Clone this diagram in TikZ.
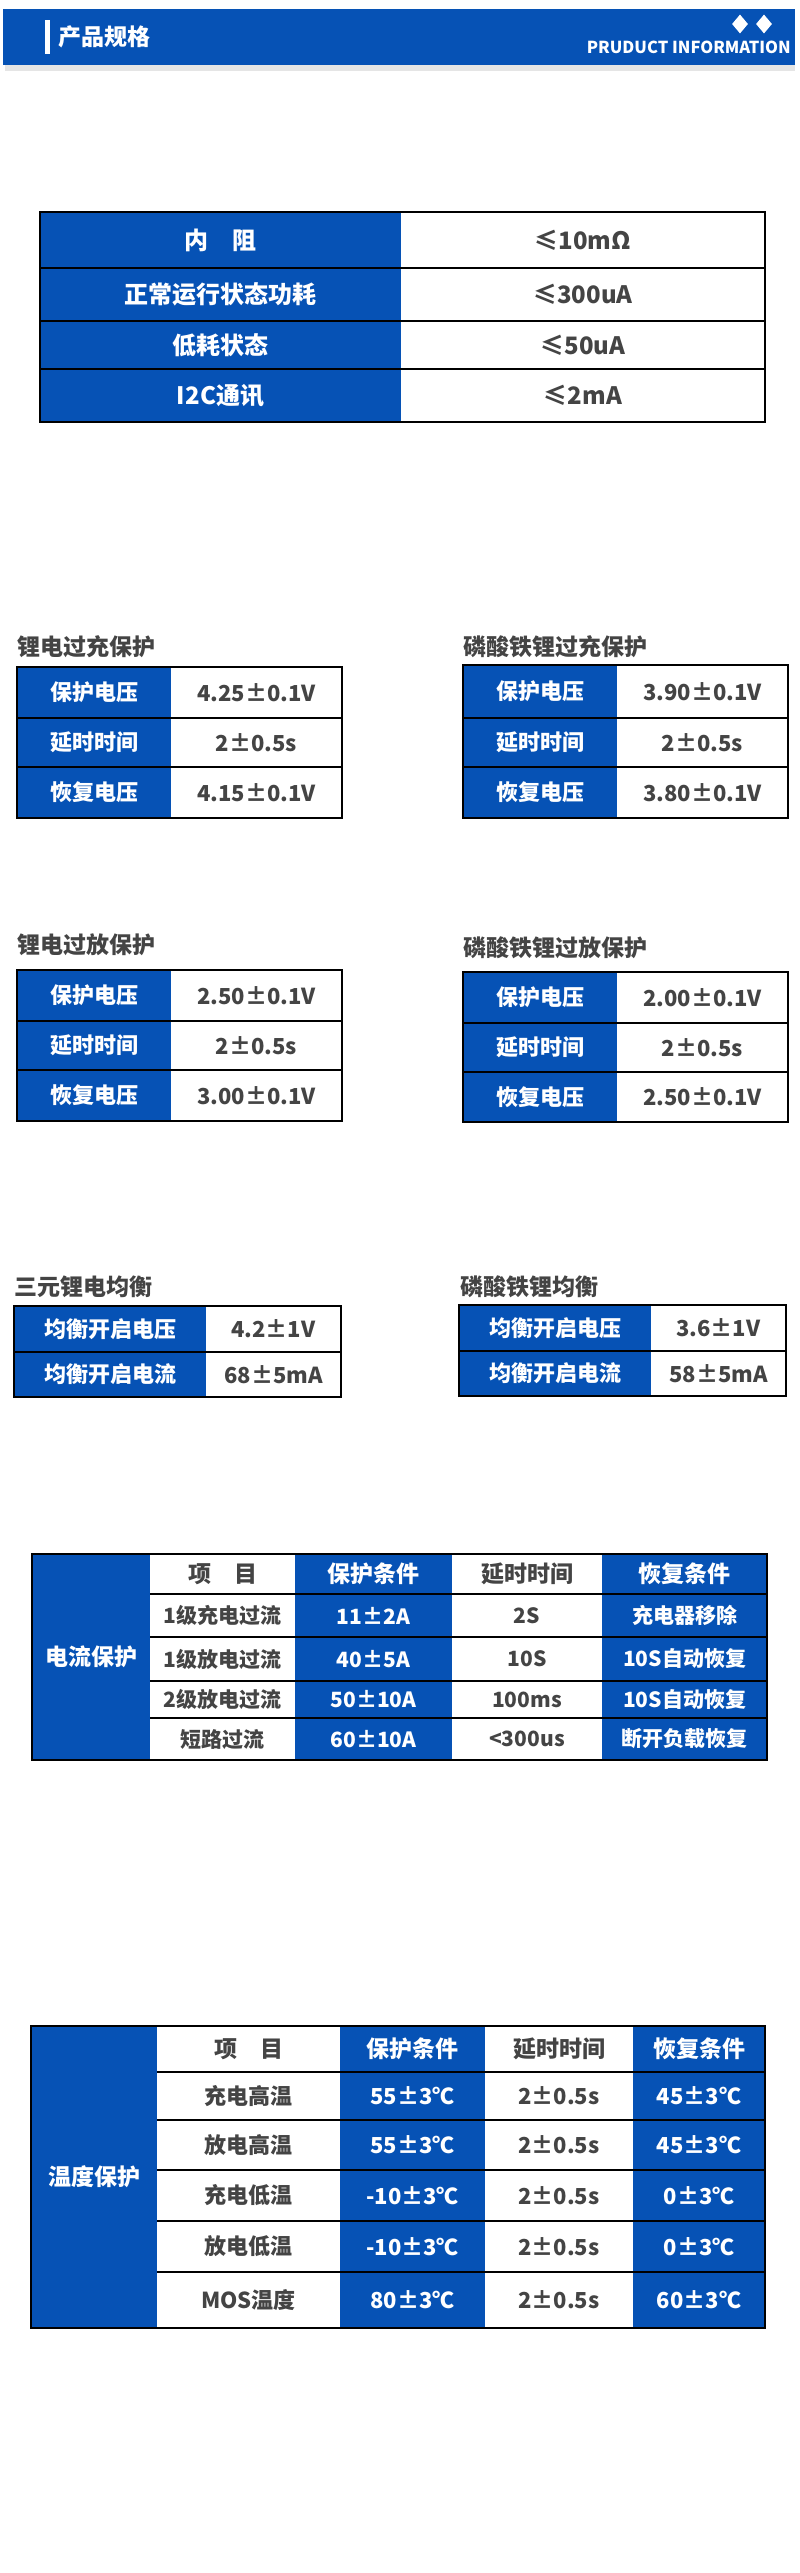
\documentclass[tikz,border=0pt]{standalone}
\usepackage{fontspec}
\setmainfont{Noto Sans CJK SC}
\usetikzlibrary{shapes.geometric}
\definecolor{myblue}{HTML}{0652B5}
\definecolor{mygray}{HTML}{444444}
\newcount\cellno
\newcommand\cellfs{\fontsize{20}{24}\selectfont}
\newcommand\BC[5]{\global\advance\cellno by 1
  \fill[myblue] (#1,#2) rectangle (#3,#4);
  \node[text=white] (c\the\cellno) at ({(#1+#3)/2},{(#2+#4)/2}) {\bfseries\cellfs #5};}
\newcommand\WC[5]{\global\advance\cellno by 1
  \fill[white] (#1,#2) rectangle (#3,#4);
  \node[text=mygray] (c\the\cellno) at ({(#1+#3)/2},{(#2+#4)/2}) {\bfseries\cellfs #5};}
\begin{document}
\begin{tikzpicture}[x=1pt,y=-1pt,
  bord/.style={line width=2.5pt,black},
  ttl/.style={anchor=west,text=mygray,font=\bfseries\fontsize{23}{27}\selectfont,inner sep=0pt}]
\useasboundingbox[fill=white] (0,0) rectangle (800,2573);
% header
\fill[black!10] (5,65) rectangle (795,71);
\fill[myblue] (3,9) rectangle (795,65);
\fill[white] (45,20) rectangle (50,54);
\node[anchor=west,text=white,font=\bfseries\fontsize{23}{27}\selectfont,inner sep=0pt] (hdr) at (58,37) {产品规格};
\node[diamond,fill=white,minimum width=16pt,minimum height=19pt,inner sep=0pt] (d1) at (740,24) {};
\node[diamond,fill=white,minimum width=16pt,minimum height=19pt,inner sep=0pt] (d2) at (764,24) {};
\node[anchor=east,text=white,font=\bfseries\fontsize{16.5}{20}\selectfont,inner sep=0pt] (pi) at (791,47) {PRUDUCT INFORMATION};
% table 1
\renewcommand\cellfs{\fontsize{24}{28}\selectfont}
\BC{40}{212}{401}{268}{内\quad 阻}\WC{401}{212}{765}{268}{≤10mΩ}
\BC{40}{268}{401}{321}{正常运行状态功耗}\WC{401}{268}{765}{321}{≤300uA}
\BC{40}{321}{401}{369}{低耗状态}\WC{401}{321}{765}{369}{≤50uA}
\BC{40}{369}{401}{422}{I2C通讯}\WC{401}{369}{765}{422}{≤2mA}
\draw[bord] (40,212) rectangle (765,422);
\foreach \y in {268,321,369} \draw[bord] (40,\y) -- (765,\y);
% small tables
\renewcommand\cellfs{\fontsize{22}{26}\selectfont}
\node[ttl] (t1) at (17,647) {锂电过充保护};
\BC{17}{667}{171}{718}{保护电压}\WC{171}{667}{342}{718}{4.25±0.1V}
\BC{17}{718}{171}{767}{延时时间}\WC{171}{718}{342}{767}{2±0.5s}
\BC{17}{767}{171}{818}{恢复电压}\WC{171}{767}{342}{818}{4.15±0.1V}
\draw[bord] (17,667) rectangle (342,818);
\foreach \y in {718,767} \draw[bord] (17,\y) -- (342,\y);
\node[ttl] (t2) at (463,647) {磷酸铁锂过充保护};
\BC{463}{665}{617}{718}{保护电压}\WC{617}{665}{788}{718}{3.90±0.1V}
\BC{463}{718}{617}{767}{延时时间}\WC{617}{718}{788}{767}{2±0.5s}
\BC{463}{767}{617}{818}{恢复电压}\WC{617}{767}{788}{818}{3.80±0.1V}
\draw[bord] (463,665) rectangle (788,818);
\foreach \y in {718,767} \draw[bord] (463,\y) -- (788,\y);
\node[ttl] (t3) at (17,945) {锂电过放保护};
\BC{17}{970}{171}{1021}{保护电压}\WC{171}{970}{342}{1021}{2.50±0.1V}
\BC{17}{1021}{171}{1070}{延时时间}\WC{171}{1021}{342}{1070}{2±0.5s}
\BC{17}{1070}{171}{1121}{恢复电压}\WC{171}{1070}{342}{1121}{3.00±0.1V}
\draw[bord] (17,970) rectangle (342,1121);
\foreach \y in {1021,1070} \draw[bord] (17,\y) -- (342,\y);
\node[ttl] (t4) at (463,948) {磷酸铁锂过放保护};
\BC{463}{972}{617}{1023}{保护电压}\WC{617}{972}{788}{1023}{2.00±0.1V}
\BC{463}{1023}{617}{1072}{延时时间}\WC{617}{1023}{788}{1072}{2±0.5s}
\BC{463}{1072}{617}{1122}{恢复电压}\WC{617}{1072}{788}{1122}{2.50±0.1V}
\draw[bord] (463,972) rectangle (788,1122);
\foreach \y in {1023,1072} \draw[bord] (463,\y) -- (788,\y);
% balance
\node[ttl] (t5) at (14,1287) {三元锂电均衡};
\BC{14}{1306}{206}{1352}{均衡开启电压}\WC{206}{1306}{341}{1352}{4.2±1V}
\BC{14}{1352}{206}{1397}{均衡开启电流}\WC{206}{1352}{341}{1397}{68±5mA}
\draw[bord] (14,1306) rectangle (341,1397);
\draw[bord] (14,1352) -- (341,1352);
\node[ttl] (t6) at (460,1287) {磷酸铁锂均衡};
\BC{459}{1305}{651}{1351}{均衡开启电压}\WC{651}{1305}{786}{1351}{3.6±1V}
\BC{459}{1351}{651}{1396}{均衡开启电流}\WC{651}{1351}{786}{1396}{58±5mA}
\draw[bord] (459,1305) rectangle (786,1396);
\draw[bord] (459,1351) -- (786,1351);
% current protection
\renewcommand\cellfs{\fontsize{23}{27}\selectfont}
\BC{32}{1554}{150}{1760}{电流保护}
\WC{150}{1554}{295}{1594}{项\quad 目}\BC{295}{1554}{452}{1594}{保护条件}\WC{452}{1554}{602}{1594}{延时时间}\BC{602}{1554}{767}{1594}{恢复条件}
\renewcommand\cellfs{\fontsize{21}{25}\selectfont}
\WC{150}{1594}{295}{1637}{1级充电过流}\BC{295}{1594}{452}{1637}{11±2A}\WC{452}{1594}{602}{1637}{2S}\BC{602}{1594}{767}{1637}{充电器移除}
\WC{150}{1637}{295}{1681}{1级放电过流}\BC{295}{1637}{452}{1681}{40±5A}\WC{452}{1637}{602}{1681}{10S}\BC{602}{1637}{767}{1681}{10S自动恢复}
\WC{150}{1681}{295}{1718}{2级放电过流}\BC{295}{1681}{452}{1718}{50±10A}\WC{452}{1681}{602}{1718}{100ms}\BC{602}{1681}{767}{1718}{10S自动恢复}
\WC{150}{1718}{295}{1760}{短路过流}\BC{295}{1718}{452}{1760}{60±10A}\WC{452}{1718}{602}{1760}{<300us}\BC{602}{1718}{767}{1760}{断开负载恢复}
\draw[bord] (32,1554) rectangle (767,1760);
\foreach \y in {1594,1637,1681,1718} \draw[bord] (150,\y) -- (767,\y);
% temperature protection
\renewcommand\cellfs{\fontsize{23}{27}\selectfont}
\BC{31}{2026}{157}{2328}{温度保护}
\WC{157}{2026}{340}{2072}{项\quad 目}\BC{340}{2026}{485}{2072}{保护条件}\WC{485}{2026}{633}{2072}{延时时间}\BC{633}{2026}{765}{2072}{恢复条件}
\renewcommand\cellfs{\fontsize{22}{26}\selectfont}
\WC{157}{2072}{340}{2120}{充电高温}\BC{340}{2072}{485}{2120}{55±3℃}\WC{485}{2072}{633}{2120}{2±0.5s}\BC{633}{2072}{765}{2120}{45±3℃}
\WC{157}{2120}{340}{2170}{放电高温}\BC{340}{2120}{485}{2170}{55±3℃}\WC{485}{2120}{633}{2170}{2±0.5s}\BC{633}{2120}{765}{2170}{45±3℃}
\WC{157}{2170}{340}{2221}{充电低温}\BC{340}{2170}{485}{2221}{-10±3℃}\WC{485}{2170}{633}{2221}{2±0.5s}\BC{633}{2170}{765}{2221}{0±3℃}
\WC{157}{2221}{340}{2272}{放电低温}\BC{340}{2221}{485}{2272}{-10±3℃}\WC{485}{2221}{633}{2272}{2±0.5s}\BC{633}{2221}{765}{2272}{0±3℃}
\WC{157}{2272}{340}{2328}{MOS温度}\BC{340}{2272}{485}{2328}{80±3℃}\WC{485}{2272}{633}{2328}{2±0.5s}\BC{633}{2272}{765}{2328}{60±3℃}
\draw[bord] (31,2026) rectangle (765,2328);
\foreach \y in {2072,2120,2170,2221,2272} \draw[bord] (157,\y) -- (765,\y);
\end{tikzpicture}
\end{document}
